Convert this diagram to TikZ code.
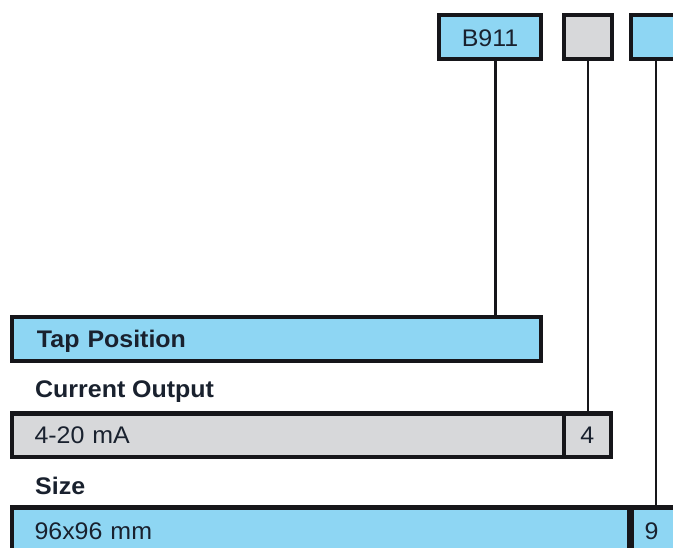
\documentclass[tikz,border=0pt]{standalone}
\usepackage{fontspec}
\setmainfont[FakeStretch=1.04]{Liberation Sans}
\definecolor{boxblue}{RGB}{142,214,243}
\definecolor{boxgrey}{RGB}{215,216,218}
\definecolor{edge}{RGB}{22,22,26}
\definecolor{ink}{RGB}{25,33,46}
\tikzset{
  cellbox/.style={draw=edge, line width=4.4pt, inner ysep=0pt, inner xsep=0pt,
    minimum height=43.6pt, text height=17pt, text depth=0pt, text=ink,
    font=\fontsize{24}{28}\selectfont},
  bluecell/.style={cellbox, fill=boxblue},
  greycell/.style={cellbox, fill=boxgrey},
  conn/.style={draw=edge, line width=2.2pt},
  caption/.style={anchor=base west, inner sep=0pt, text=ink,
    font=\bfseries\fontsize{24}{28}\selectfont},
}
\begin{document}
\begin{tikzpicture}[x=1pt, y=-1pt]
\useasboundingbox (0,0) rectangle (673,548);
\clip (0,0) rectangle (673,548);
\fill[white] (0,0) rectangle (673,548);
% top code boxes
\node[bluecell, minimum width=101.6pt, text height=19pt] (b911) at (490,37) {B911};
\node[greycell, minimum width=47.6pt] (topgrey) at (588,37) {};
\node[bluecell, minimum width=49.6pt] (topblue) at (656,37) {};
% rows
\node[bluecell, text width=479pt, inner xsep=24.8pt, align=left, text height=18pt,
      font=\bfseries\fontsize{24}{28}\selectfont] (tap) at (276.5,339) {Tap Position};
\node[caption] (curcap) at (35,398) {Current Output};
\node[greycell, text width=507.2pt, inner xsep=22.3pt, align=left] (greymain) at (288.1,435.5) {4-20 mA};
\node[greycell, minimum width=46.8pt] (cell4) at (587.4,435.5) {4};
\node[caption] (sizecap) at (35,494) {Size};
\node[bluecell, text width=572.7pt, inner xsep=22.3pt, align=left, text height=20pt] (bluemain) at (320.85,529.2) {96x96 mm};
\node[bluecell, text width=30pt, inner xsep=13pt, align=left, text height=20pt, anchor=west] (cell9) at (629.5,529.2) {9};
% connectors
\draw[conn] ([xshift=5.5pt]b911.south) -- ([xshift=5.5pt]b911.south |- tap.north);
\draw[conn] (topgrey.south) -- (topgrey.south |- cell4.north);
\draw[conn] (topblue.south) -- (topblue.south |- cell9.north);
\end{tikzpicture}
\end{document}
